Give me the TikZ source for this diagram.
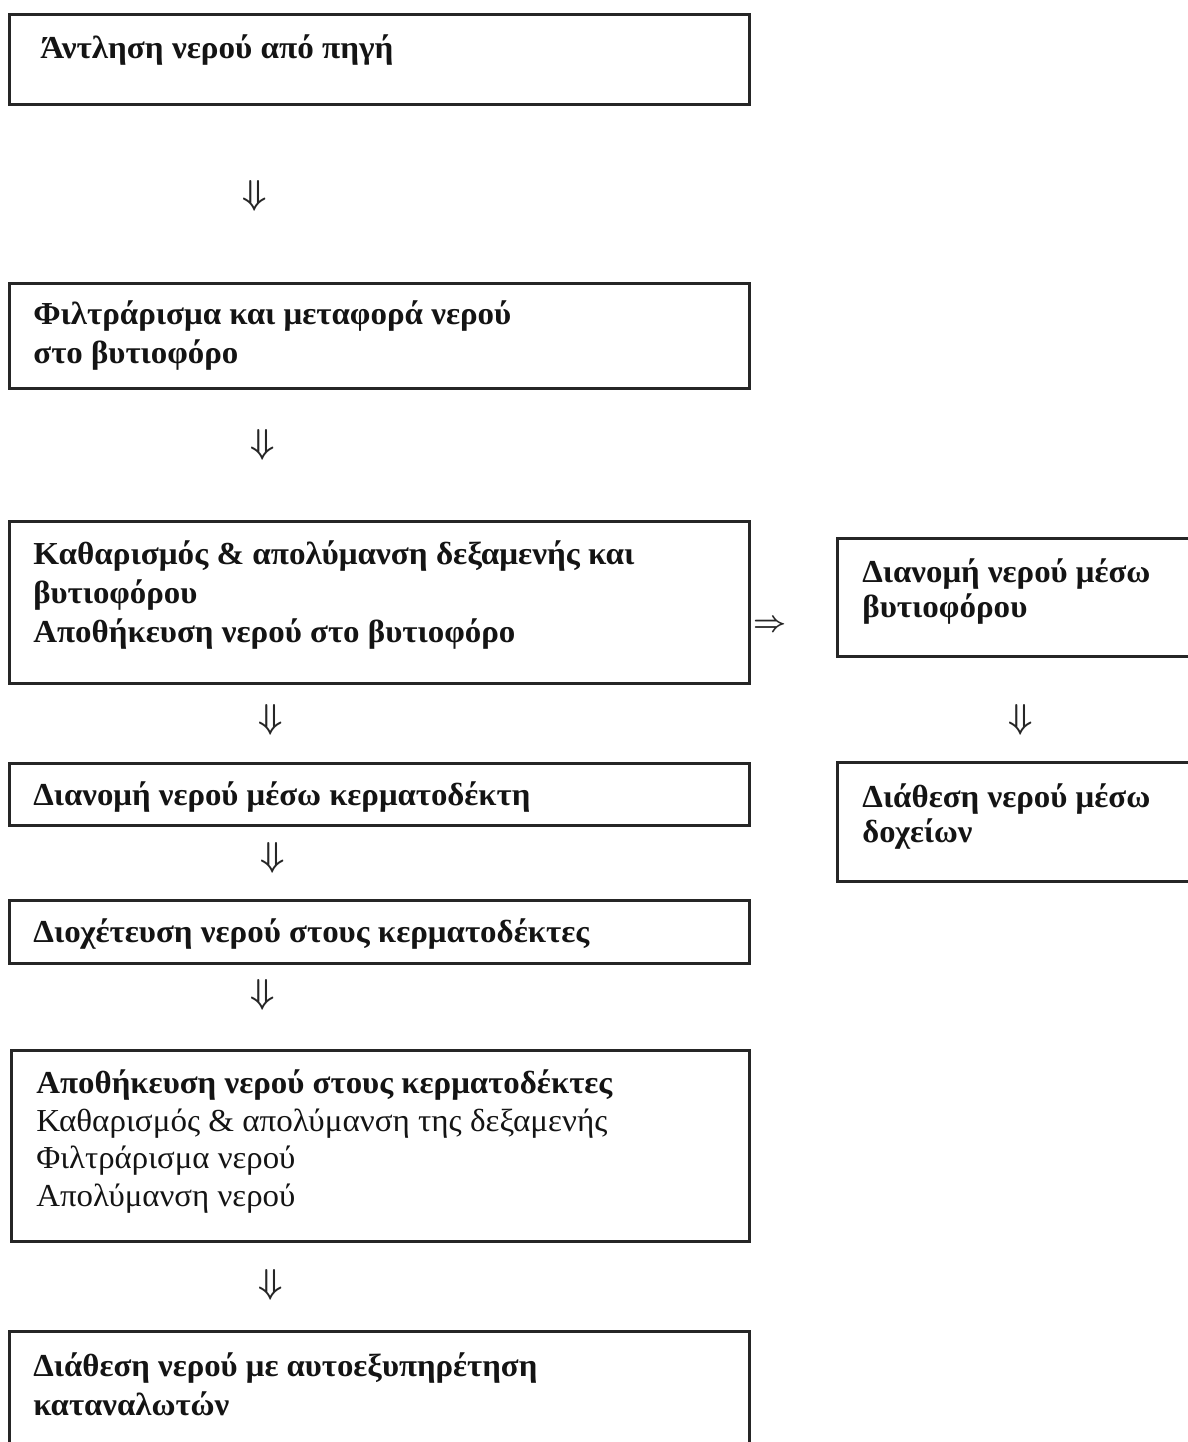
\documentclass[tikz,border=0pt]{standalone}
\usepackage{fontspec}
\setmainfont{Liberation Serif}
\usepackage{graphicx}
\newcommand\fl[2]{\resizebox{#1pt}{\height}{#2}}
\begin{document}
\begin{tikzpicture}[x=0.5pt,y=-0.5pt,
  box/.style={draw=black!85, line width=1.3pt, anchor=north west, inner sep=0pt},
  txt/.style={anchor=base west, inner sep=0pt, align=left, text=black!92,
    font=\fontsize{16}{19.25}\selectfont\bfseries},
  arr/.style={inner sep=0pt, text=black!85, font=\fontsize{16}{19}\selectfont\boldmath}]
\useasboundingbox (0,0) rectangle (1188,1442);
% boxes
\node[box, minimum width=370pt, minimum height=45pt]   (b1) at (8,13) {};
\node[box, minimum width=370pt, minimum height=52.5pt] (b2) at (8,282) {};
\node[box, minimum width=370pt, minimum height=81pt]   (b3) at (8,520) {};
\node[box, minimum width=182pt, minimum height=59pt]   (b4) at (836,537) {};
\node[box, minimum width=370pt, minimum height=31pt]   (b5) at (8,762) {};
\node[box, minimum width=370pt, minimum height=31.5pt] (b6) at (8,899) {};
\node[box, minimum width=369pt, minimum height=95.5pt] (b7) at (10,1049) {};
\node[box, minimum width=370pt, minimum height=70pt]   (b8) at (8,1330) {};
\node[box, minimum width=182pt, minimum height=59.5pt] (b9) at (836,761) {};
% texts (multi-line nodes are placed by the baseline of their last line)
\node[txt] (t1) at (40,58) {\fl{176.5}{Άντληση νερού από πηγή}};
\node[txt] (t2) at (33,363) {\fl{239}{Φιλτράρισμα και μεταφορά νερού}\\\fl{102.5}{στο βυτιοφόρο}};
\node[txt, font=\fontsize{16}{19.5}\selectfont\bfseries] (t3) at (33,642) {\fl{300.5}{Καθαρισμός \& απολύμανση δεξαμενής και}\\\fl{82}{βυτιοφόρου}\\\fl{241}{Αποθήκευση νερού στο βυτιοφόρο}};
\node[txt, font=\fontsize{16}{17.5}\selectfont\bfseries] (t4) at (862,617) {\fl{144}{Διανομή νερού μέσω}\\\fl{82.5}{βυτιοφόρου}};
\node[txt] (t5) at (33,805) {\fl{248.5}{Διανομή νερού μέσω κερματοδέκτη}};
\node[txt] (t6) at (33,942) {\fl{278}{Διοχέτευση νερού στους κερματοδέκτες}};
\node[txt, font=\fontsize{16}{18.7}\selectfont] (t7) at (36,1206) {\fl{288}{\bfseries Αποθήκευση νερού στους κερματοδέκτες}\\\fl{285.5}{Καθαρισμός \& απολύμανση της δεξαμενής}\\\fl{129.5}{Φιλτράρισμα νερού}\\\fl{129.5}{Απολύμανση νερού}};
\node[txt] (t8) at (33,1415) {\fl{252}{Διάθεση νερού με αυτοεξυπηρέτηση}\\\fl{98}{καταναλωτών}};
\node[txt, font=\fontsize{16}{17.5}\selectfont\bfseries] (t9) at (862,842) {\fl{144}{Διάθεση νερού μέσω}\\\fl{55}{δοχείων}};
% arrows
\node[arr] (a1) at (255,196) {$\Downarrow$};
\node[arr] (a2) at (263,445) {$\Downarrow$};
\node[arr] (a3) at (271,720) {$\Downarrow$};
\node[arr] (a4) at (273,858) {$\Downarrow$};
\node[arr] (a5) at (263,995) {$\Downarrow$};
\node[arr] (a6) at (271,1285) {$\Downarrow$};
\node[arr] (a7) at (1021,720) {$\Downarrow$};
\node[arr, font=\fontsize{14}{17}\selectfont\boldmath] (a8) at (770,626) {$\Rightarrow$};
\end{tikzpicture}
\end{document}
